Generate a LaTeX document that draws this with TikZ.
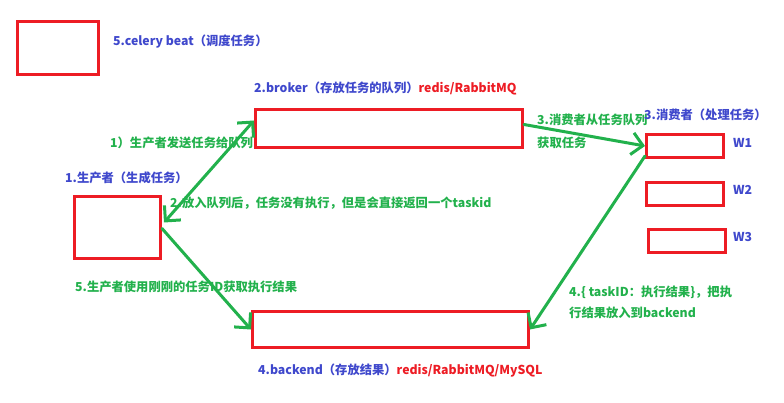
\documentclass[tikz,border=0pt]{standalone}
\usepackage{fontspec}
\setmainfont{Noto Sans CJK SC}
\usetikzlibrary{arrows.meta}
\definecolor{pblue}{RGB}{63,72,204}
\definecolor{pred}{RGB}{237,28,36}
\definecolor{pgreen}{RGB}{34,177,76}
\tikzset{
  box/.style={draw=pred, line width=3pt, rectangle, inner sep=0pt},
  lbl/.style={anchor=west, inner sep=0pt, font=\fontsize{12.3}{15}\selectfont\bfseries},
  blbl/.style={lbl, text=pblue},
  glbl/.style={lbl, text=pgreen},
  conn/.style={draw=pgreen, line width=3pt, line cap=round, -{Straight Barb[length=11pt,width=22pt]}},
  conn2/.style={draw=pgreen, line width=3pt, line cap=round, {Straight Barb[length=11pt,width=22pt]}-{Straight Barb[length=11pt,width=22pt]}}
}
\begin{document}
\begin{tikzpicture}[x=1pt,y=-1pt]
\useasboundingbox (0,0) rectangle (784,403);
% boxes
\node[box, minimum width=81pt, minimum height=53pt] (beat) at (58,48) {};
\node[box, minimum width=267pt, minimum height=38pt] (broker) at (389,128.5) {};
\node[box, minimum width=86pt, minimum height=62pt] (prod) at (117.5,227.5) {};
\node[box, minimum width=276pt, minimum height=36pt] (backend) at (390.5,329.5) {};
\node[box, minimum width=77pt, minimum height=23pt] (w1) at (685,146) {};
\node[box, minimum width=77pt, minimum height=23pt] (w2) at (685,194) {};
\node[box, minimum width=77pt, minimum height=23pt] (w3) at (687,241) {};
% labels
\node[blbl] (tbeat) at (113,42) {5.celery beat（调度任务）};
\node[lbl] (tbroker) at (254,88) {\textcolor{pblue}{2.broker（存放任务的队列）}\textcolor{pred}{redis/RabbitMQ}};
\node[glbl] (t1) at (110,143) {1）生产者发送任务给队列};
\node[blbl] (tprod) at (65,178) {1.生产者（生成任务）};
\node[glbl] (t2) at (170,203) {2.放入队列后，任务没有执行，但是会直接返回一个taskid};
\node[glbl] (t3a) at (537,120) {3.消费者从任务队列};
\node[glbl] (t3b) at (537,143) {获取任务};
\node[blbl] (tcons) at (644,115) {3.消费者（处理任务）};
\node[blbl] (tw1) at (733,143) {W1};
\node[blbl] (tw2) at (733,190) {W2};
\node[blbl] (tw3) at (733,237) {W3};
\node[glbl] (t5) at (75,287) {5.生产者使用刚刚的任务ID获取执行结果};
\node[glbl] (t4a) at (569,292) {4.\{ taskID：执行结果\}，把执};
\node[glbl] (t4b) at (569,313) {行结果放入到backend};
\node[lbl] (tbackend) at (258,371) {\textcolor{pblue}{4.backend（存放结果）}\textcolor{pred}{redis/RabbitMQ/MySQL}};
% connectors
\draw[conn2] ([xshift=2pt,yshift=5pt]prod.east) -- ([yshift=8pt]broker.west);
\draw[conn] ([yshift=-1pt]prod.east) -- (backend.west);
\draw[conn] ([yshift=4pt]broker.east) -- (w1.west);
\draw[conn] ([yshift=3pt]w1.south west) -- (backend.east);
\end{tikzpicture}
\end{document}
